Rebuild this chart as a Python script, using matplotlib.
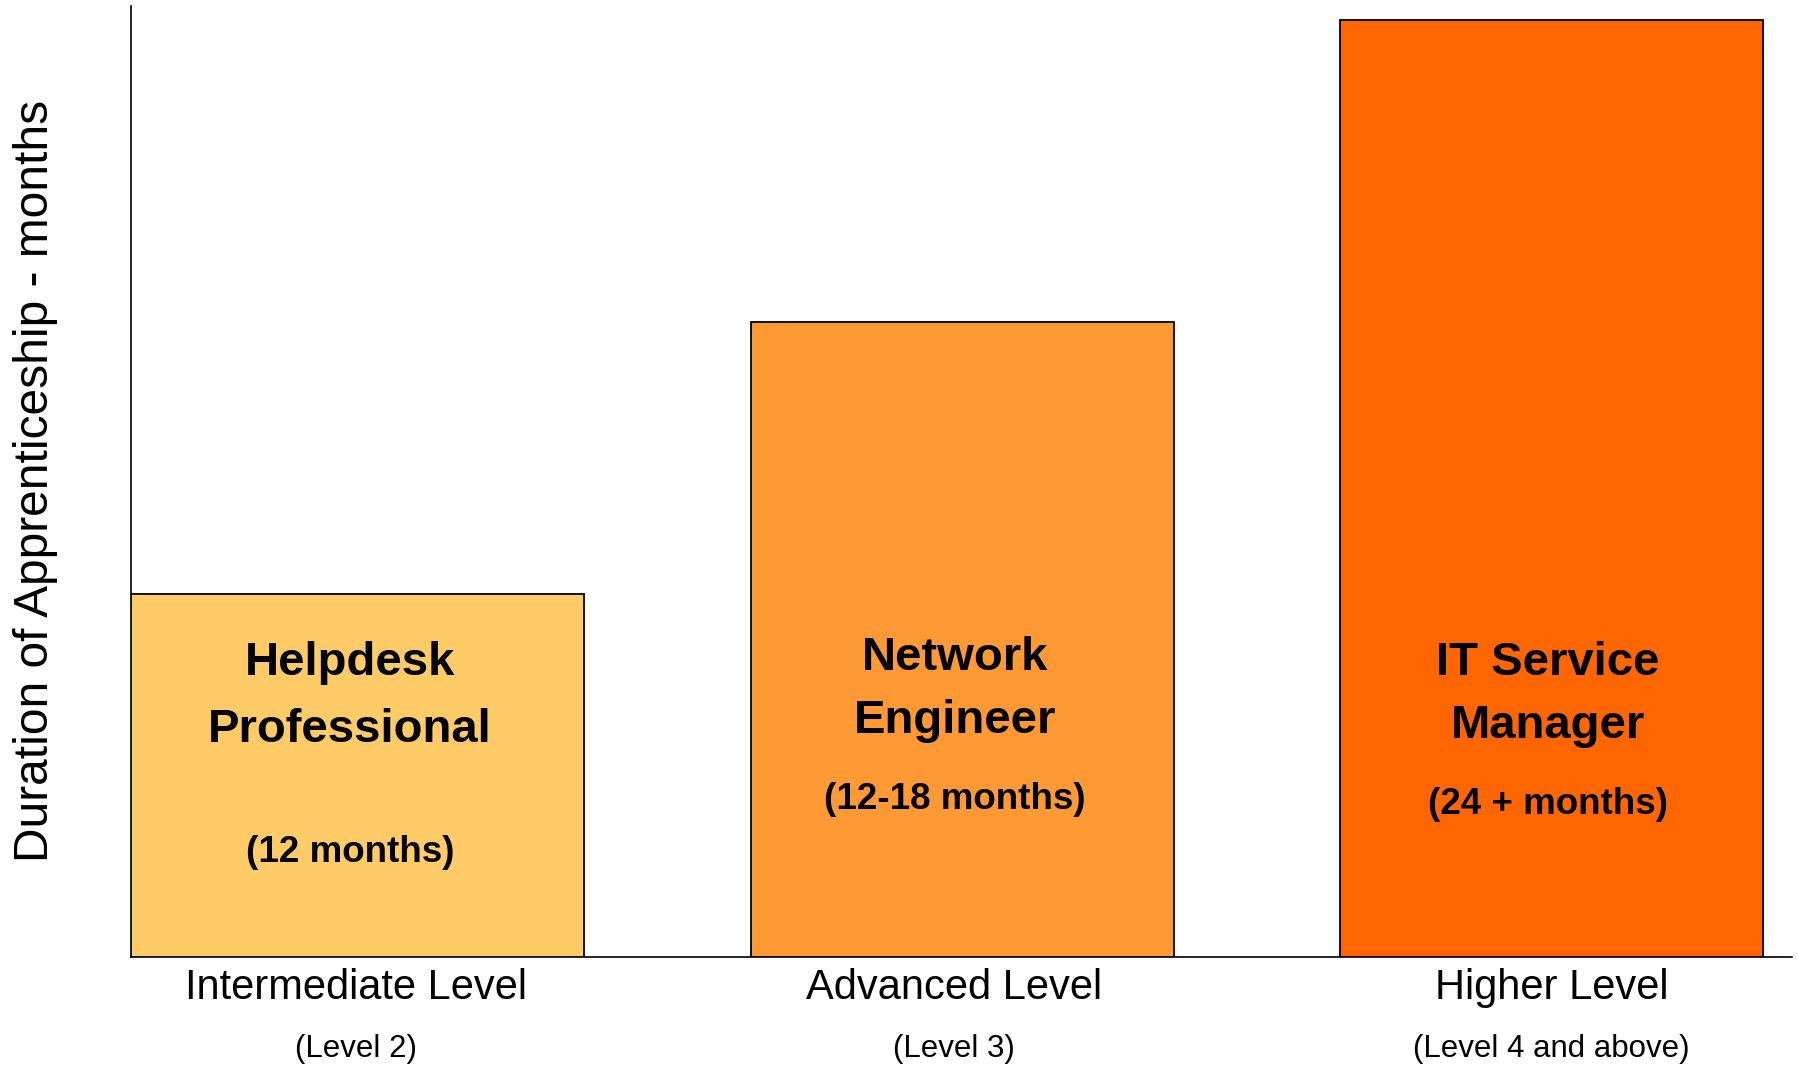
import matplotlib
matplotlib.use("Agg")
import matplotlib.pyplot as plt
import matplotlib.transforms as mtransforms

# ---- data ----
levels = ["Intermediate Level", "Advanced Level", "Higher Level"]
sublevels = ["(Level 2)", "(Level 3)", "(Level 4 and above)"]
roles = ["Helpdesk\nProfessional", "Network\nEngineer", "IT Service\nManager"]
durations_text = ["(12 months)", "(12-18 months)", "(24 + months)"]
values = [9.3, 16.26, 24.0]
colors = ["#FFCB66", "#FF9933", "#FF6600"]
ylabel = "Duration of Apprenticeship - months"

# ---- style / layout ----
W, H, DPI = 1798, 1065, 100
FONT = ["Liberation Sans", "Arial", "DejaVu Sans"]
plt.rcParams["font.family"] = FONT

fig = plt.figure(figsize=(W / DPI, H / DPI), dpi=DPI)
ax_left, ax_right, ax_top, ax_bot = 131, 1792, 6, 957
ax = fig.add_axes([ax_left / W, 1 - ax_bot / H, (ax_right - ax_left) / W, (ax_bot - ax_top) / H])

bar_centers = [-0.027, 1.0, 2.0]
bar_widths = [0.769, 0.718, 0.718]
ax.bar(bar_centers, values, width=bar_widths, color=colors,
       edgecolor="black", linewidth=1.3, zorder=3)

ax.set_xlim(-0.4117, 2.4083)
ax.set_ylim(0, 24.36)

for s in ["top", "right"]:
    ax.spines[s].set_visible(False)
for s in ["left", "bottom"]:
    ax.spines[s].set_linewidth(1.2)
    ax.spines[s].set_color("black")
ax.set_xticks([])
ax.set_yticks([])

def frac(ypx):
    return (ax_bot - ypx) / (ax_bot - ax_top)

trans = mtransforms.blended_transform_factory(ax.transData, ax.transAxes)

# category labels under the axis
label_x = [-0.029, 0.986, 2.0]
for x, lv, sub in zip(label_x, levels, sublevels):
    ax.text(x, frac(999), lv, transform=trans, ha="center", va="baseline",
            fontsize=30, color="black", clip_on=False)
    ax.text(x, frac(1057), sub, transform=trans, ha="center", va="baseline",
            fontsize=22.5, color="black", clip_on=False)

# text inside bars
text_x = [-0.040, 0.987, 1.994]
line_base = [(675, 742), (670, 733), (675, 738)]
dur_base = [862, 809, 814]
for x, role, dur, lb, db in zip(text_x, roles, durations_text, line_base, dur_base):
    l1, l2 = role.split("\n")
    ax.text(x, frac(lb[0]), l1, transform=trans, ha="center", va="baseline",
            fontsize=34, fontweight="bold", color="black", zorder=5)
    ax.text(x, frac(lb[1]), l2, transform=trans, ha="center", va="baseline",
            fontsize=34, fontweight="bold", color="black", zorder=5)
    ax.text(x, frac(db), dur, transform=trans, ha="center", va="baseline",
            fontsize=26.5, fontweight="bold", color="black", zorder=5)

fig.text(36 / W, 1 - 481 / H, ylabel, rotation=90, ha="center", va="center",
         fontsize=34.5, color="black")

fig.savefig("out.png", dpi=DPI, facecolor="white")
